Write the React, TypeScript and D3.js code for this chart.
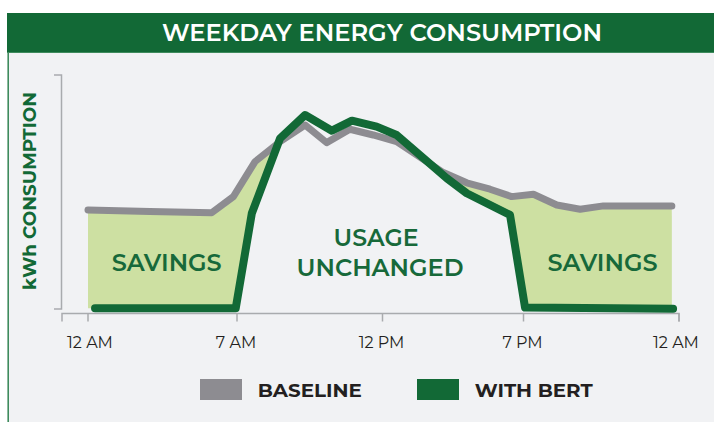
import React from 'react';
import * as d3 from 'd3';

// hours of the day on the x axis (ticks are not evenly spaced in the original)
const tickHours = [0, 7, 12, 19, 24];
const tickLabels = ['12 AM', '7 AM', '12 PM', '7 PM', '12 AM'];

// relative kWh
const baselineHours = [0, 2.9, 5.81, 6.83, 7.62, 8.48, 9.34, 10.08, 10.88, 11.68, 12.7, 15.02, 16.18, 17.34, 18.41, 19.32, 20.07, 20.82, 21.57, 23.77];
const baselineKwh = [43.3, 42.6, 42.1, 48.9, 63.6, 72.0, 79.0, 71.6, 77.2, 74.8, 72.0, 59.0, 54.7, 52.0, 48.9, 49.9, 45.4, 43.6, 45.0, 45.0];

const bertHours = [0.33, 6.94, 7.51, 8.48, 9.34, 10.26, 10.95, 11.8, 12.7, 15.19, 16.18, 18.33, 19.05, 23.81];
const bertKwh = [2.0, 2.0, 41.9, 73.4, 83.2, 76.6, 80.8, 78.3, 74.8, 56.6, 50.3, 41.2, 2.3, 1.8];

const legendItems = ['BASELINE', 'WITH BERT'];

const W = 714;
const H = 422;
const GREEN = '#126936';
const GRAY = '#8d8c91';
const FILL = '#cde0a2';
const AXIS = '#a9abae';
const FONT = "Montserrat, 'Open Sans', sans-serif";

const App: React.FC = () => {
  const x = d3.scaleLinear().domain(tickHours).range([88, 237, 382.5, 523.5, 679]);
  const y = d3.scaleLinear().domain([0, 100]).range([313, 75]);

  const base: [number, number][] = baselineHours.map((h, i) => [h, baselineKwh[i]]);
  const bert: [number, number][] = bertHours.map((h, i) => [h, bertKwh[i]]);

  const line = d3.line<[number, number]>().x(d => x(d[0])).y(d => y(d[1]));

  // savings = between baseline (top) and bert (bottom), clipped under the baseline
  const fillPts: [number, number][] = [...base, ...bert.slice().reverse(), [base[0][0], bert[0][1]]];
  const underBase = d3.area<[number, number]>()
    .x(d => x(d[0]))
    .y0(H)
    .y1(d => y(d[1]));

  const axisY = 313.5;
  const axisX0 = 62;

  return (
    <svg width={W} height={H} style={{ position: 'absolute', left: 0, top: 0 }}>
      <defs>
        <clipPath id="under-base">
          <path d={underBase(base) || ''} />
        </clipPath>
      </defs>
      <rect x={0} y={0} width={W} height={H} fill="#fff" />
      <rect x={8} y={52} width={W - 8} height={H - 52} fill="#f1f2f4" />
      <rect x={7} y={13} width={W - 7} height={39} fill={GREEN} />
      <line x1={7} x2={W} y1={52.5} y2={52.5} stroke="#3f8b5d" strokeWidth={1} />
      <line x1={8.2} x2={8.2} y1={52} y2={H} stroke="#3f8b5d" strokeWidth={1.6} />
      <text x={382} y={41} textAnchor="middle" fill="#fff" fontFamily={FONT} fontWeight={600}
        fontSize={23} textLength={440} lengthAdjust="spacingAndGlyphs">WEEKDAY ENERGY CONSUMPTION</text>

      {/* y axis bracket */}
      <path d={`M${axisX0 - 8},75H${axisX0 - 0.5}V309H${axisX0 - 8}`} fill="none" stroke={AXIS} strokeWidth={1.5} />
      <text transform="translate(36,191) rotate(-90)" textAnchor="middle" fill={GREEN} fontFamily={FONT}
        fontWeight={700} fontSize={18} textLength={198} lengthAdjust="spacingAndGlyphs">kWh CONSUMPTION</text>

      {/* x axis */}
      <path d={`M${axisX0},${axisY + 8}V${axisY}H${x(24)}V${axisY + 8}`} fill="none" stroke={AXIS} strokeWidth={1.5} />
      {tickHours.map((h, i) => (
        <g key={i} transform={`translate(${x(h)},0)`}>
          <line y1={axisY} y2={axisY + 8} stroke={AXIS} strokeWidth={1.5} />
          <text x={i === 0 ? 2 : i === 4 ? -3 : -1} y={348} textAnchor="middle" fill="#231f20" fontFamily={FONT}
            fontSize={16}>{tickLabels[i]}</text>
        </g>
      ))}

      <path d={line(fillPts) + 'Z'} fill={FILL} clipPath="url(#under-base)" />
      <path d={line(base) || ''} fill="none" stroke={GRAY} strokeWidth={7} strokeLinecap="round" strokeLinejoin="round" />
      <path d={line(bert) || ''} fill="none" stroke={GREEN} strokeWidth={8} strokeLinecap="round" strokeLinejoin="round" />

      <g fill="#17693a" fontFamily={FONT} fontWeight={600} fontSize={23} textAnchor="middle">
        <text x={166.7} y={270.7} textLength={110} lengthAdjust="spacingAndGlyphs">SAVINGS</text>
        <text x={602.5} y={270.7} textLength={110} lengthAdjust="spacingAndGlyphs">SAVINGS</text>
        <text x={376} y={245.7} textLength={85} lengthAdjust="spacingAndGlyphs">USAGE</text>
        <text x={380} y={275.7} textLength={167} lengthAdjust="spacingAndGlyphs">UNCHANGED</text>
      </g>

      {legendItems.map((name, i) => (
        <g key={name} transform={`translate(${200 + i * 217},379)`}>
          <rect width={42} height={21} fill={i === 0 ? GRAY : GREEN} />
          <text x={57.7} y={17.7} fill="#231f20" fontFamily={FONT} fontWeight={700} fontSize={18}
            textLength={i === 0 ? 104 : 118} lengthAdjust="spacingAndGlyphs">{name}</text>
        </g>
      ))}
    </svg>
  );
};

export default App;
